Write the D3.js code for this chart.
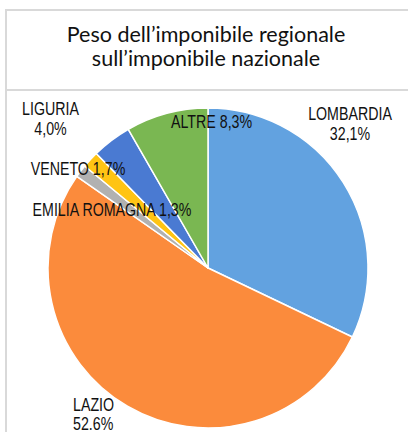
<!DOCTYPE html>
<meta charset="utf-8">
<style>
body { margin: 0; background: #fff; }
svg { display: block; }
</style>
<svg width="408" height="432"></svg>
<script src="https://cdn.jsdelivr.net/npm/d3@7"></script>
<script>
// regions, clockwise from 12 o'clock
var regions = ["LOMBARDIA", "LAZIO", "EMILIA ROMAGNA", "VENETO", "LIGURIA", "ALTRE"]
var shares = [32.1, 52.6, 1.3, 1.7, 4.0, 8.3]
var sliceColors = ["#62a2e0", "#fb8b3c", "#b1b1b1", "#ffc414", "#4a7ad2", "#7ab752"]
var titleLines = ["Peso dell\u2019imponibile regionale", "sull\u2019imponibile nazionale"]

var cx = 208, cy = 268, radius = 160

var svg = d3.select("svg")

// frame + title box (right/bottom edges run off the picture)
svg.append("rect")
  .attr("x", 6).attr("y", 10)
  .attr("width", 420).attr("height", 440)
  .attr("fill", "none").attr("stroke", "#d9d9d9").attr("stroke-width", 2)
svg.append("line")
  .attr("x1", 6).attr("x2", 420).attr("y1", 90).attr("y2", 90)
  .attr("stroke", "#d9d9d9").attr("stroke-width", 2)

svg.append("g")
  .selectAll("text")
  .data(titleLines)
  .enter().append("text")
    .attr("x", 206)
    .attr("y", function (d, i) { return 42 + i * 24 })
    .attr("text-anchor", "middle")
    .attr("font-family", "Lato, 'Open Sans', sans-serif")
    .attr("font-size", 21.5)
    .attr("fill", "#111")
    .text(function (d) { return d })

var pie = d3.pie().sort(null).value(function (d) { return d })
var arc = d3.arc().innerRadius(0).outerRadius(radius)

svg.append("g")
  .attr("transform", "translate(" + cx + "," + cy + ")")
  .selectAll("path")
  .data(pie(shares))
  .enter().append("path")
    .attr("d", arc)
    .attr("fill", function (d, i) { return sliceColors[i] })
    .attr("stroke", "#fff")
    .attr("stroke-width", 1.5)
    .attr("stroke-linejoin", "round")

// data labels (excel-ish narrow font -> squeeze horizontally)
function fmt(v) { return v.toFixed(1).replace(".", ",") + "%" }
var labelSpots = [
  { x: 350, y: 120, anchor: "middle", split: true, gap: 20 },
  { x: 73, y: 411, anchor: "start", split: true, gap: 19, dot: true },
  { x: 112, y: 216, anchor: "middle", split: false },
  { x: 78, y: 175, anchor: "middle", split: false },
  { x: 50.5, y: 115, anchor: "middle", split: true, gap: 20 },
  { x: 171, y: 128, anchor: "start", split: false }
]
var squeeze = 0.79

var labels = svg.append("g")
  .attr("font-family", "'Liberation Sans', Arial, sans-serif")
  .attr("font-size", 18)
  .attr("fill", "#111")

labelSpots.forEach(function (s, i) {
  var pctText = s.dot ? shares[i].toFixed(1) + "%" : fmt(shares[i])
  var t = labels.append("text")
    .attr("transform", "translate(" + s.x + "," + s.y + ") scale(" + squeeze + ",1)")
    .attr("text-anchor", s.anchor)
  if (s.split) {
    t.append("tspan").attr("x", 0).text(regions[i])
    t.append("tspan").attr("x", 0).attr("dy", s.gap).text(pctText)
  } else {
    t.text(regions[i] + " " + pctText)
  }
})
</script>
